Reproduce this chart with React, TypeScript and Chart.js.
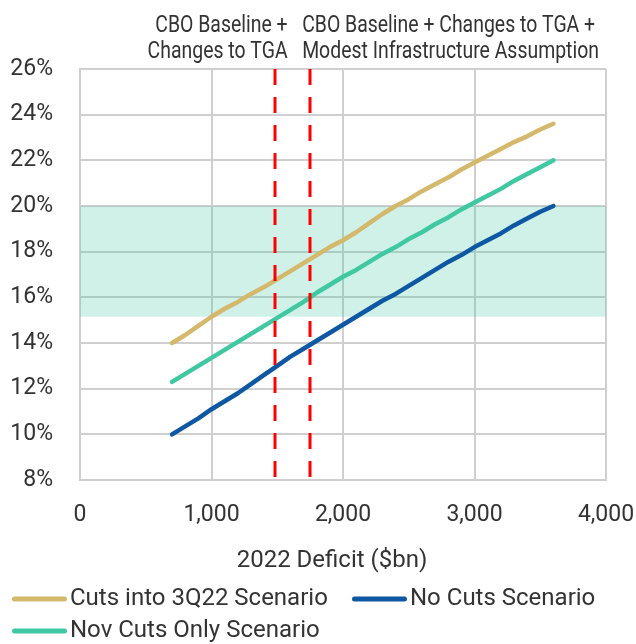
import React, { useEffect, useRef } from "react";
import { Chart, registerables } from "chart.js";

Chart.register(...registerables);

// ---------- data ----------
const deficits = [
  700, 800, 900, 1000, 1100, 1200, 1300, 1400, 1500, 1600,
  1700, 1800, 1900, 2000, 2100, 2200, 2300, 2400, 2500, 2600,
  2700, 2800, 2900, 3000, 3100, 3200, 3300, 3400, 3500, 3600,
];
const cutsInto3Q22 = [
  14.0, 14.35, 14.75, 15.15, 15.5, 15.8, 16.15, 16.45, 16.8, 17.15,
  17.5, 17.85, 18.2, 18.5, 18.85, 19.25, 19.65, 20.0, 20.3, 20.65,
  20.95, 21.25, 21.6, 21.9, 22.2, 22.5, 22.8, 23.05, 23.35, 23.6,
];
const noCuts = [
  10.0, 10.35, 10.7, 11.1, 11.45, 11.8, 12.2, 12.6, 13.0, 13.4,
  13.75, 14.1, 14.45, 14.8, 15.15, 15.5, 15.85, 16.15, 16.5, 16.85,
  17.2, 17.55, 17.85, 18.2, 18.5, 18.8, 19.15, 19.45, 19.75, 20.0,
];
const novCutsOnly = [
  12.3, 12.65, 13.0, 13.35, 13.7, 14.05, 14.4, 14.75, 15.1, 15.45,
  15.8, 16.2, 16.55, 16.9, 17.2, 17.55, 17.9, 18.2, 18.55, 18.85,
  19.2, 19.5, 19.85, 20.15, 20.45, 20.75, 21.1, 21.4, 21.7, 22.0,
];
const seriesNames = ["Cuts into 3Q22 Scenario", "No Cuts Scenario", "Nov Cuts Only Scenario"];
const xRange = [0, 4000];
const xStep = 1000;
const yRange = [8, 26];
const yStep = 2;
const bandRange = [15.15, 20];
const markerDeficits = [1480, 1750];
const markerLabels = [
  ["CBO Baseline +", "Changes to TGA"],
  ["CBO Baseline + Changes to TGA +", "Modest Infrastructure Assumption"],
];
const xTitle = "2022 Deficit ($bn)";

// ---------- style ----------
const COLORS = ["#D4B96C", "#0E57A2", "#3FC8A2"];
const FONT = "Roboto";
const FONT_SIZE = 23;
const NARROW = 0.845; // horizontal condensing of the annotation text
const TEXT = "#333333";
const GRID = "#cfcfcf";

const bandPlugin = {
  id: "band",
  beforeDatasetsDraw(chart: any) {
    const { ctx, chartArea, scales } = chart;
    const y1 = scales.y.getPixelForValue(bandRange[1]);
    const y0 = scales.y.getPixelForValue(bandRange[0]);
    ctx.save();
    ctx.fillStyle = "rgba(63,200,162,0.25)";
    ctx.fillRect(chartArea.left, y1, chartArea.right - chartArea.left, y0 - y1);
    ctx.restore();
  },
};

const markerPlugin = {
  id: "markers",
  afterDatasetsDraw(chart: any) {
    const { ctx, chartArea, scales } = chart;
    ctx.save();
    ctx.strokeStyle = "#ff0000";
    ctx.lineWidth = 3;
    ctx.setLineDash([16, 12]);
    markerDeficits.forEach((d) => {
      const px = Math.round(scales.x.getPixelForValue(d));
      ctx.beginPath();
      ctx.moveTo(px, chartArea.top);
      ctx.lineTo(px, chartArea.bottom);
      ctx.stroke();
    });
    ctx.setLineDash([]);
    ctx.fillStyle = TEXT;
    ctx.font = `${FONT_SIZE}px ${FONT}`;
    ctx.textBaseline = "alphabetic";
    const p0 = scales.x.getPixelForValue(markerDeficits[0]);
    const p1 = scales.x.getPixelForValue(markerDeficits[1]);
    const drawNarrow = (text: string, x: number, y: number, align: string) => {
      ctx.save();
      ctx.translate(x, y);
      ctx.scale(NARROW, 1);
      ctx.textAlign = align;
      ctx.fillText(text, 0, 0);
      ctx.restore();
    };
    drawNarrow(markerLabels[0][0], p0 + 13, chartArea.top - 37, "right");
    drawNarrow(markerLabels[0][1], p0 + 13, chartArea.top - 11, "right");
    drawNarrow(markerLabels[1][0], p1 - 8, chartArea.top - 37, "left");
    drawNarrow(markerLabels[1][1], p1 - 8, chartArea.top - 11, "left");
    ctx.restore();
  },
};

const titlePlugin = {
  id: "xTitle",
  afterDraw(chart: any) {
    const { ctx, chartArea } = chart;
    ctx.save();
    ctx.font = `24px ${FONT}`;
    ctx.fillStyle = TEXT;
    ctx.textAlign = "center";
    ctx.textBaseline = "alphabetic";
    ctx.fillText(xTitle, (chartArea.left + chartArea.right) / 2 - 11, chartArea.bottom + 87);
    ctx.restore();
  },
};

const LEGEND_SLOTS = [
  { x: 12, y: 599 },
  { x: 352, y: 599 },
  { x: 12, y: 631 },
];

const legendPlugin = {
  id: "customLegend",
  afterDraw(chart: any) {
    const { ctx } = chart;
    ctx.save();
    ctx.font = `24px ${FONT}`;
    ctx.textBaseline = "middle";
    ctx.textAlign = "left";
    chart.data.datasets.forEach((ds: any, i: number) => {
      const slot = LEGEND_SLOTS[i];
      ctx.strokeStyle = ds.borderColor;
      ctx.lineWidth = 5;
      ctx.lineCap = "round";
      ctx.beginPath();
      ctx.moveTo(slot.x + 2.5, slot.y);
      ctx.lineTo(slot.x + 52.5, slot.y);
      ctx.stroke();
      ctx.fillStyle = TEXT;
      ctx.fillText(ds.label, slot.x + 58, slot.y);
    });
    ctx.restore();
  },
};

export default function App() {
  const ref = useRef<HTMLCanvasElement | null>(null);

  useEffect(() => {
    if (!ref.current) return;
    const series = [cutsInto3Q22, noCuts, novCutsOnly];
    const chart = new Chart(ref.current, {
      type: "line",
      data: {
        datasets: series.map((vals, i) => ({
          label: seriesNames[i],
          data: deficits.map((d, j) => ({ x: d, y: vals[j] })),
          borderColor: COLORS[i],
          backgroundColor: COLORS[i],
          borderWidth: 4.5,
          pointRadius: 0,
          tension: 0,
          borderCapStyle: "round",
          borderJoinStyle: "round",
          fill: false,
        })),
      },
      options: {
        animation: false,
        responsive: true,
        maintainAspectRatio: false,
        layout: { padding: { top: 69, right: 30, bottom: 64, left: 0 } },
        font: { family: FONT, size: FONT_SIZE },
        plugins: {
          legend: { display: false },
          tooltip: { enabled: false },
        },
        scales: {
          x: {
            type: "linear",
            min: xRange[0],
            max: xRange[1],
            afterFit: (s: any) => {
              s.height = 100;
              s.paddingLeft = 0;
              s.paddingRight = 0;
            },
            ticks: {
              stepSize: xStep,
              padding: 21,
              color: TEXT,
              font: { family: FONT, size: FONT_SIZE },
              callback: (v: any) => Number(v).toLocaleString("en-US"),
            },
            grid: { color: GRID, lineWidth: 2, drawTicks: false },
            border: { color: GRID, width: 2 },
            title: { display: false },
          },
          y: {
            type: "linear",
            min: yRange[0],
            max: yRange[1],
            afterFit: (s: any) => {
              s.width = 80;
              s.paddingTop = 0;
              s.paddingBottom = 0;
            },
            ticks: {
              stepSize: yStep,
              padding: 27,
              color: TEXT,
              font: { family: FONT, size: FONT_SIZE },
              callback: (v: any) => `${v}%`,
            },
            grid: { color: GRID, lineWidth: 2, drawTicks: false },
            border: { color: GRID, width: 2 },
          },
        },
      },
      plugins: [bandPlugin, markerPlugin, titlePlugin, legendPlugin],
    } as any);
    return () => chart.destroy();
  }, []);

  return (
    <div style={{ position: "absolute", left: 0, top: 0, width: 636, height: 644 }}>
      <canvas ref={ref} />
    </div>
  );
}
